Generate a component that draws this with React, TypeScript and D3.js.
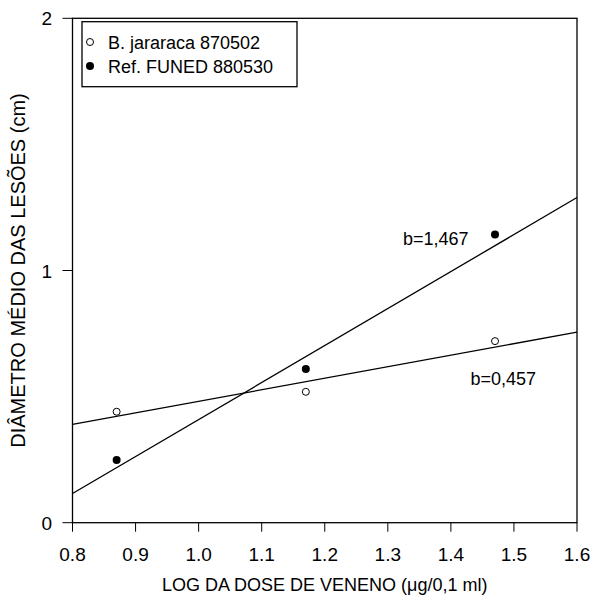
import React from "react";
import * as d3 from "d3";

// Dose (log) and mean lesion diameter (cm) for each venom batch
const doses = [0.87, 1.17, 1.47];
const jararacaDiam = [0.44, 0.519, 0.72];
const funedDiam = [0.249, 0.609, 1.143];

// Regression lines: slope b, intercept a
const seriesNames = ["B. jararaca 870502", "Ref. FUNED 880530"];
const slopes = [0.457, 1.467];
const intercepts = [0.0244, -1.058];
const slopeLabels = ["b=0,457", "b=1,467"];
const slopeLabelPos = [
  [1.431, 0.546],
  [1.324, 1.101],
];

const xTicks = [0.8, 0.9, 1.0, 1.1, 1.2, 1.3, 1.4, 1.5, 1.6];
const yTicks = [0, 1, 2];

const W = 594;
const H = 602;
const FONT = "'Liberation Sans', Arial, sans-serif";

export default function App() {
  const x = d3.scaleLinear().domain([0.8, 1.6]).range([72.5, 577]);
  const y = d3.scaleLinear().domain([0, 2]).range([522.7, 18.3]);
  const [x0, x1] = x.domain();
  const line = d3
    .line<[number, number]>()
    .x((d) => x(d[0]))
    .y((d) => y(d[1]));

  const left = x.range()[0];
  const right = x.range()[1];
  const top = y.range()[1];
  const bottom = y.range()[0];

  return (
    <svg
      width={W}
      height={H}
      style={{ position: "absolute", left: 0, top: 0, background: "#fff" }}
      fontFamily={FONT}
    >
      <rect x={0} y={0} width={W} height={H} fill="#fff" />
      {/* frame */}
      <rect
        x={left}
        y={top}
        width={right - left}
        height={bottom - top}
        fill="none"
        stroke="#000"
        strokeWidth={1.3}
      />
      {/* x ticks */}
      {xTicks.map((t) => (
        <g key={"x" + t}>
          <line x1={x(t)} x2={x(t)} y1={bottom} y2={bottom + 9} stroke="#000" strokeWidth={1} />
          <text x={x(t)} y={bottom + 38} textAnchor="middle" fontSize={19}>
            {d3.format(".1f")(t)}
          </text>
        </g>
      ))}
      {/* y ticks */}
      {yTicks.map((t) => (
        <g key={"y" + t}>
          <line x1={left - 10} x2={left} y1={y(t)} y2={y(t)} stroke="#000" strokeWidth={1} />
          <text x={52} y={y(t) + 7} textAnchor="end" fontSize={19}>
            {t}
          </text>
        </g>
      ))}
      {/* axis titles */}
      <text x={(left + right) / 2} y={591} textAnchor="middle" fontSize={18}>
        LOG DA DOSE DE VENENO (μg/0,1 ml)
      </text>
      <text
        transform={`translate(25, ${(top + bottom) / 2}) rotate(-90)`}
        textAnchor="middle"
        fontSize={20}
      >
        DIÂMETRO MÉDIO DAS LESÕES (cm)
      </text>

      {/* regression lines */}
      {slopes.map((b, i) => (
        <path
          key={"l" + i}
          d={line([
            [x0, intercepts[i] + b * x0],
            [x1, intercepts[i] + b * x1],
          ]) as string}
          fill="none"
          stroke="#000"
          strokeWidth={1.3}
        />
      ))}
      {slopeLabels.map((s, i) => (
        <text key={"b" + i} x={x(slopeLabelPos[i][0])} y={y(slopeLabelPos[i][1])} fontSize={18}>
          {s}
        </text>
      ))}

      {/* data points */}
      {doses.map((d, i) => (
        <circle key={"j" + i} cx={x(d)} cy={y(jararacaDiam[i])} r={3.5} fill="#fff" stroke="#000" strokeWidth={1} />
      ))}
      {doses.map((d, i) => (
        <circle key={"f" + i} cx={x(d)} cy={y(funedDiam[i])} r={4} fill="#000" />
      ))}

      {/* legend */}
      <rect x={82} y={21.7} width={215} height={65} fill="#fff" stroke="#000" strokeWidth={1.3} />
      <circle cx={90} cy={42} r={3.5} fill="#fff" stroke="#000" strokeWidth={1} />
      <circle cx={90} cy={66} r={4} fill="#000" />
      <text x={108} y={48.5} fontSize={18}>{seriesNames[0]}</text>
      <text x={108} y={72.5} fontSize={18}>{seriesNames[1]}</text>
    </svg>
  );
}
